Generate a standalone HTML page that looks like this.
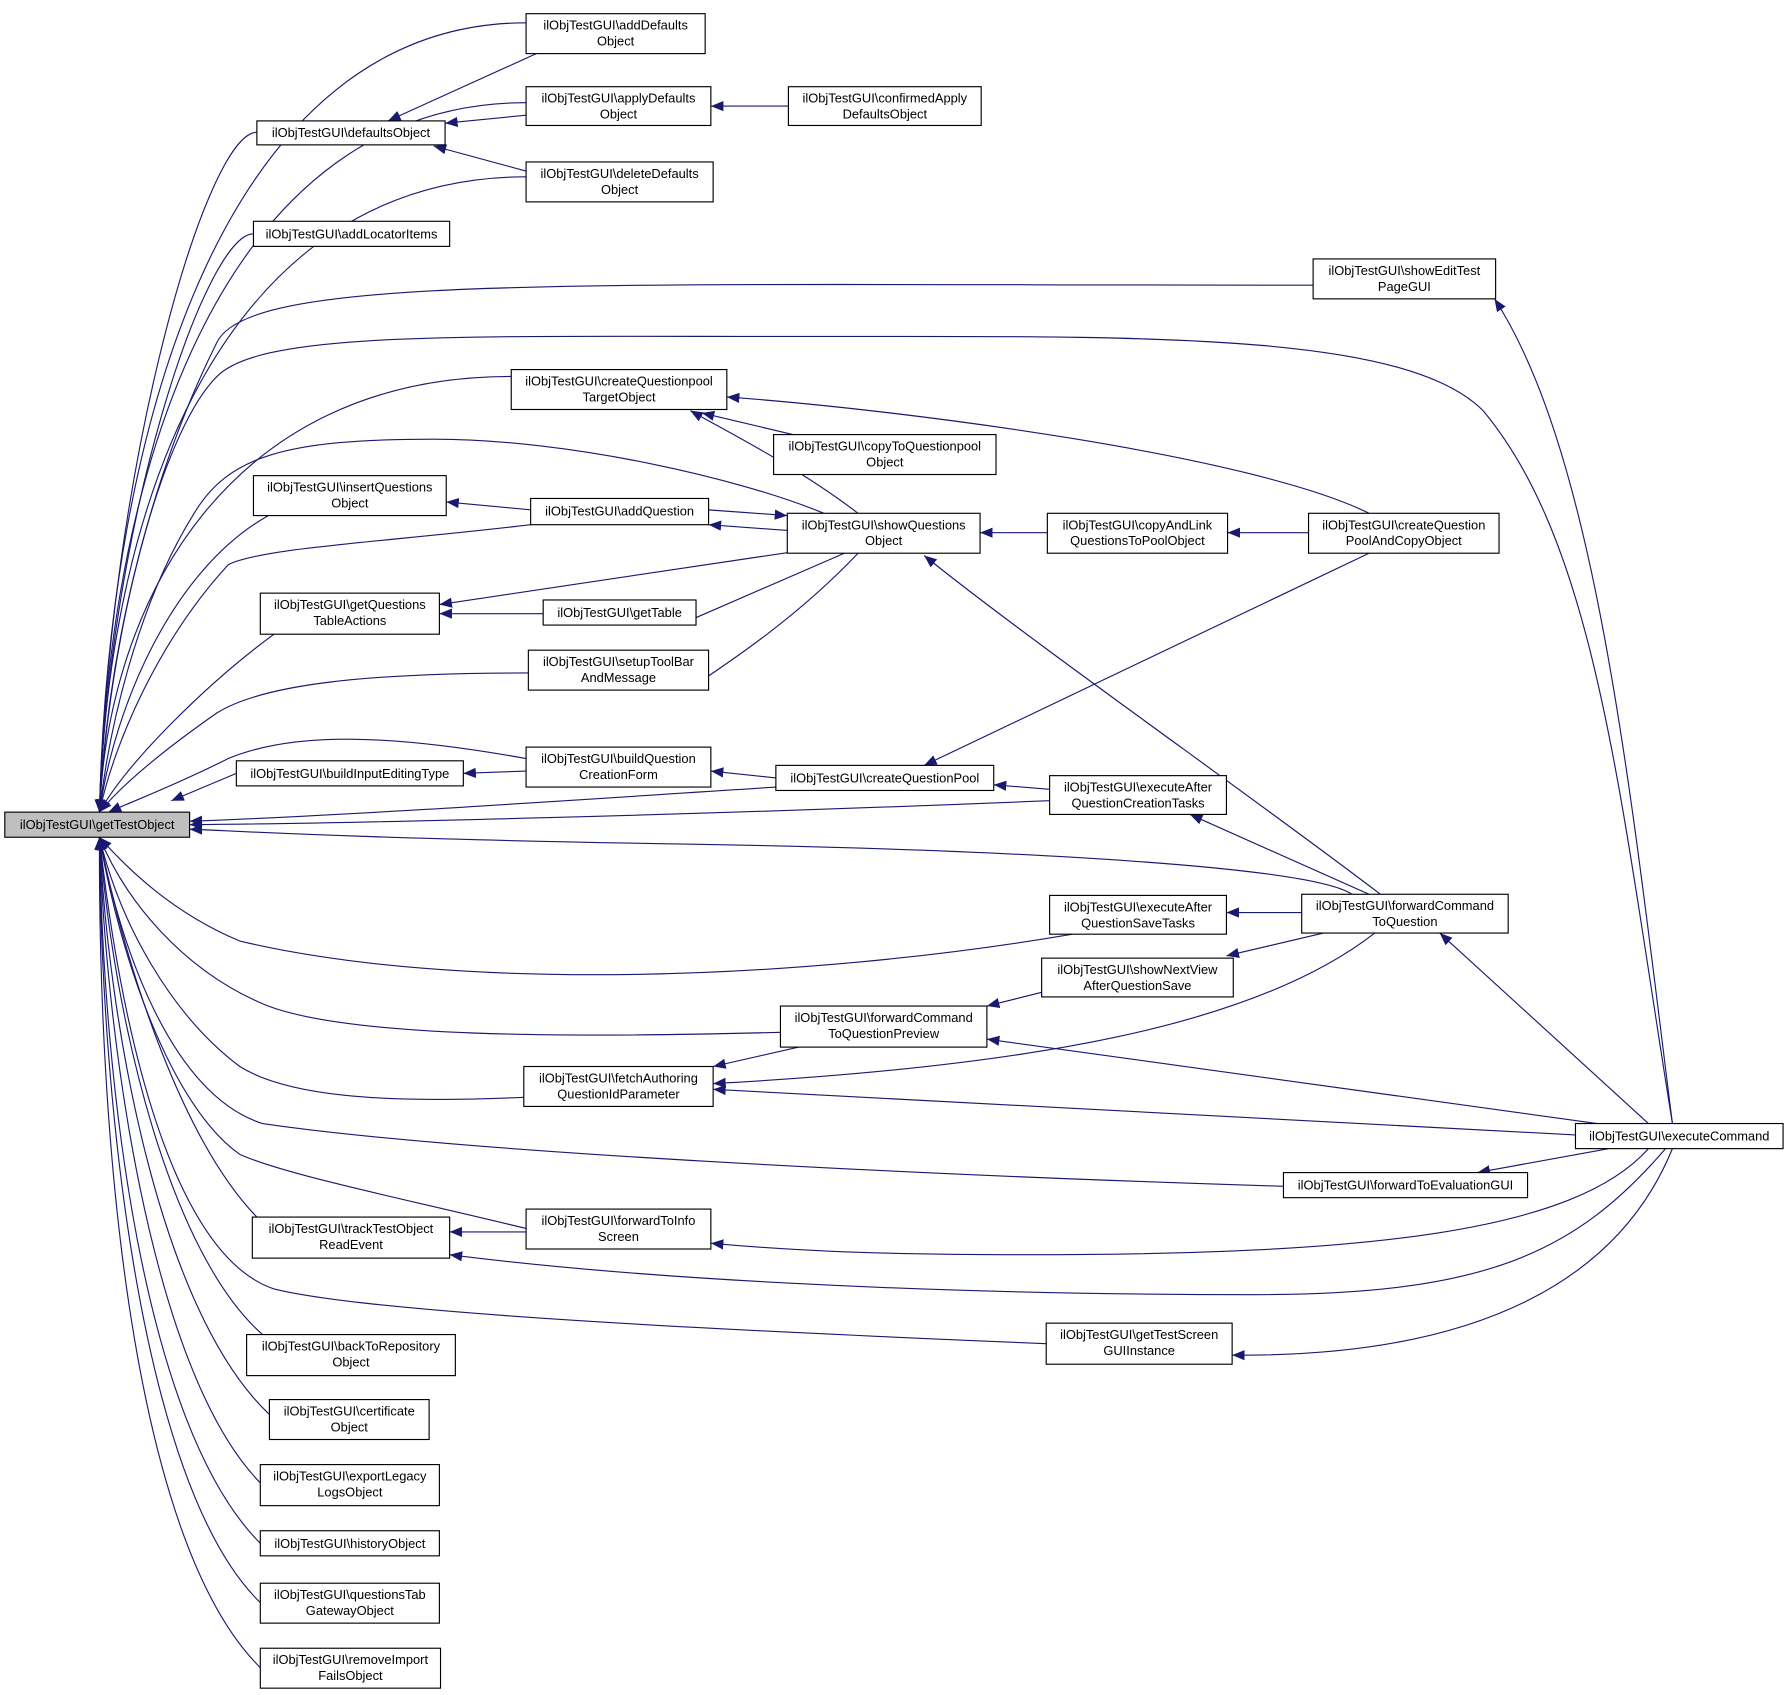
<!DOCTYPE html>
<html><head><meta charset="utf-8"><style>
html,body{margin:0;padding:0;background:#fff;}
svg{display:block;}
text{font-family:"Liberation Sans",sans-serif;font-size:11.3px;fill:#000;text-anchor:middle;}
.n{fill:#fff;stroke:#000;stroke-width:1;}
.e{fill:none;stroke:#191970;stroke-width:1;marker-end:url(#a);}
</style></head><body>
<svg width="1789" height="1695" viewBox="0 0 1568 1486" xmlns="http://www.w3.org/2000/svg">
<defs><marker id="a" markerUnits="userSpaceOnUse" markerWidth="12" markerHeight="10" refX="11" refY="4.5" orient="auto"><path d="M0,0 L11,4.5 L0,9 z" fill="#191970"/></marker></defs>
<g>
<!-- edges to getTestObject -->
<path class="e" d="M461,20 C200,20 95,366 87,712"/>
<path class="e" d="M461,90 C200,90 95,401 87,712"/>
<path class="e" d="M225,116 C180,116 95,414 87,712"/>
<path class="e" d="M461,155 C200,155 95,433 87,712"/>
<path class="e" d="M222,205 C180,205 95,458 87,712"/>
<path class="e" d="M1151,250 C500,250 220,240 190,300 C140,400 95,550 87,712"/>
<path class="e" d="M1466,985 C1420,700 1400,480 1300,360 C1230,290 1000,295 700,295 C400,295 230,290 190,330 C140,380 95,560 87,712"/>
<path class="e" d="M448,330 C200,330 95,526 87,712"/>
<path class="e" d="M722,450 C650,420 500,385 380,385 C250,385 200,400 170,450 C120,530 95,640 87,712"/>
<path class="e" d="M235,452 C150,500 100,620 87,712"/>
<path class="e" d="M465,460 C340,475 230,480 200,495 C140,560 100,650 87,712"/>
<path class="e" d="M240,556 C180,600 110,670 87,712"/>
<path class="e" d="M463,590 C320,590 230,600 190,625 C140,660 105,690 87,712"/>
<path class="e" d="M461,665 C350,645 260,640 200,665 C150,690 110,705 95,712"/>
<path class="e" d="M207,678 L150,702"/>
<path class="e" d="M680,690 C450,705 300,715 166,720"/>
<path class="e" d="M920,702 C600,715 300,722 166,723"/>
<path class="e" d="M1185,784 C1150,760 900,745 600,740 C300,735 200,728 166,727"/>
<path class="e" d="M940,819 C700,860 400,870 210,825 C150,800 110,760 87,734"/>
<path class="e" d="M684,905 C500,910 300,910 230,880 C160,850 110,790 87,734"/>
<path class="e" d="M459,962 C330,968 250,960 210,935 C150,890 105,810 87,734"/>
<path class="e" d="M1125,1040 C800,1030 400,1010 230,985 C150,960 105,830 87,734"/>
<path class="e" d="M461,1077 C350,1050 250,1030 210,1012 C150,970 105,840 87,734"/>
<path class="e" d="M225,1067 C160,1000 110,850 87,734"/>
<path class="e" d="M917,1178 C600,1165 320,1150 240,1130 C150,1100 105,900 87,734"/>
<path class="e" d="M230,1170 C150,1100 100,900 87,734"/>
<path class="e" d="M236,1240 C140,1150 95,900 87,734"/>
<path class="e" d="M228,1300 C130,1200 92,900 87,734"/>
<path class="e" d="M228,1353 C125,1250 90,950 87,734"/>
<path class="e" d="M228,1405 C120,1300 88,950 87,734"/>
<path class="e" d="M228,1462 C115,1350 86,1000 87,734"/>
<!-- other edges -->
<path class="e" d="M470,47 L340,106"/>
<path class="e" d="M461,101 L390,108"/>
<path class="e" d="M461,150 L380,128"/>
<path class="e" d="M691,93 L623,93"/>
<path class="e" d="M1466,985 C1430,700 1400,400 1310,262"/>
<path class="e" d="M695,381 L615,362"/>
<path class="e" d="M752,450 C700,410 640,380 605,360"/>
<path class="e" d="M1200,450 C1100,400 800,360 637,348"/>
<path class="e" d="M465,447 L391,440"/>
<path class="e" d="M690,465 L621,460"/>
<path class="e" d="M621,447 L690,452"/>
<path class="e" d="M720,480 L385,530"/>
<path class="e" d="M476,538 L385,538"/>
<path class="e" d="M740,485 L595,548"/>
<path class="e" d="M752,485 C700,540 640,580 610,600"/>
<path class="e" d="M918,467 L859,467"/>
<path class="e" d="M1147,467 L1076,467"/>
<path class="e" d="M1210,784 C1100,700 900,560 810,487"/>
<path class="e" d="M1200,485 L810,671"/>
<path class="e" d="M461,676 L406,678"/>
<path class="e" d="M680,682 L623,676"/>
<path class="e" d="M920,692 L871,688"/>
<path class="e" d="M1200,784 L1043,714"/>
<path class="e" d="M1141,800 L1075,800"/>
<path class="e" d="M1160,818 L1075,838"/>
<path class="e" d="M1445,985 L1262,818"/>
<path class="e" d="M913,870 L865,882"/>
<path class="e" d="M1400,985 L865,911"/>
<path class="e" d="M700,918 L625,935"/>
<path class="e" d="M1205,818 C1100,900 900,935 625,950"/>
<path class="e" d="M1381,995 L625,955"/>
<path class="e" d="M1410,1007 L1295,1028"/>
<path class="e" d="M461,1080 L394,1080"/>
<path class="e" d="M1460,1007 C1380,1100 1300,1135 1100,1135 C800,1135 550,1120 394,1100"/>
<path class="e" d="M1445,1007 C1380,1080 1200,1100 900,1100 C750,1100 680,1095 623,1090"/>
<path class="e" d="M1466,1007 C1420,1120 1300,1190 1080,1188"/>
</g>
<g>
<rect x="4" y="712" width="162" height="22" fill="#bfbfbf" stroke="#000"/><text x="85" y="727">ilObjTestGUI\getTestObject</text>

<rect class="n" x="461" y="12" width="157" height="35"/><text x="539.5" y="26">ilObjTestGUI\addDefaults</text><text x="539.5" y="40">Object</text>
<rect class="n" x="461" y="76" width="162" height="34"/><text x="542" y="90">ilObjTestGUI\applyDefaults</text><text x="542" y="104">Object</text>
<rect class="n" x="691" y="76" width="169" height="34"/><text x="775.5" y="90">ilObjTestGUI\confirmedApply</text><text x="775.5" y="104">DefaultsObject</text>
<rect class="n" x="225" y="106" width="165" height="21"/><text x="307.5" y="120">ilObjTestGUI\defaultsObject</text>
<rect class="n" x="461" y="142" width="164" height="35"/><text x="543" y="156">ilObjTestGUI\deleteDefaults</text><text x="543" y="170">Object</text>
<rect class="n" x="222" y="194" width="172" height="22"/><text x="308" y="209">ilObjTestGUI\addLocatorItems</text>
<rect class="n" x="1151" y="227" width="160" height="35"/><text x="1231" y="241">ilObjTestGUI\showEditTest</text><text x="1231" y="255">PageGUI</text>
<rect class="n" x="448" y="324" width="189" height="35"/><text x="542.5" y="338">ilObjTestGUI\createQuestionpool</text><text x="542.5" y="352">TargetObject</text>
<rect class="n" x="678" y="381" width="195" height="35"/><text x="775.5" y="395">ilObjTestGUI\copyToQuestionpool</text><text x="775.5" y="409">Object</text>
<rect class="n" x="222" y="417" width="169" height="35"/><text x="306.5" y="431">ilObjTestGUI\insertQuestions</text><text x="306.5" y="445">Object</text>
<rect class="n" x="465" y="437" width="156" height="23"/><text x="543" y="452">ilObjTestGUI\addQuestion</text>
<rect class="n" x="690" y="450" width="169" height="35"/><text x="774.5" y="464">ilObjTestGUI\showQuestions</text><text x="774.5" y="478">Object</text>
<rect class="n" x="918" y="450" width="158" height="35"/><text x="997" y="464">ilObjTestGUI\copyAndLink</text><text x="997" y="478">QuestionsToPoolObject</text>
<rect class="n" x="1147" y="450" width="167" height="35"/><text x="1230.5" y="464">ilObjTestGUI\createQuestion</text><text x="1230.5" y="478">PoolAndCopyObject</text>
<rect class="n" x="228" y="520" width="157" height="36"/><text x="306.5" y="534">ilObjTestGUI\getQuestions</text><text x="306.5" y="548">TableActions</text>
<rect class="n" x="476" y="526" width="134" height="22"/><text x="543" y="541">ilObjTestGUI\getTable</text>
<rect class="n" x="463" y="570" width="158" height="35"/><text x="542" y="584">ilObjTestGUI\setupToolBar</text><text x="542" y="598">AndMessage</text>
<rect class="n" x="207" y="667" width="199" height="22"/><text x="306.5" y="682">ilObjTestGUI\buildInputEditingType</text>
<rect class="n" x="461" y="655" width="162" height="35"/><text x="542" y="669">ilObjTestGUI\buildQuestion</text><text x="542" y="683">CreationForm</text>
<rect class="n" x="680" y="671" width="191" height="22"/><text x="775.5" y="686">ilObjTestGUI\createQuestionPool</text>
<rect class="n" x="920" y="680" width="155" height="34"/><text x="997.5" y="694">ilObjTestGUI\executeAfter</text><text x="997.5" y="708">QuestionCreationTasks</text>
<rect class="n" x="920" y="785" width="155" height="34"/><text x="997.5" y="799">ilObjTestGUI\executeAfter</text><text x="997.5" y="813">QuestionSaveTasks</text>
<rect class="n" x="1141" y="784" width="181" height="34"/><text x="1231.5" y="798">ilObjTestGUI\forwardCommand</text><text x="1231.5" y="812">ToQuestion</text>
<rect class="n" x="913" y="840" width="168" height="34"/><text x="997" y="854">ilObjTestGUI\showNextView</text><text x="997" y="868">AfterQuestionSave</text>
<rect class="n" x="684" y="882" width="181" height="36"/><text x="774.5" y="896">ilObjTestGUI\forwardCommand</text><text x="774.5" y="910">ToQuestionPreview</text>
<rect class="n" x="459" y="935" width="166" height="35"/><text x="542" y="949">ilObjTestGUI\fetchAuthoring</text><text x="542" y="963">QuestionIdParameter</text>
<rect class="n" x="1381" y="985" width="182" height="22"/><text x="1472" y="1000">ilObjTestGUI\executeCommand</text>
<rect class="n" x="1125" y="1028" width="214" height="22"/><text x="1232" y="1043">ilObjTestGUI\forwardToEvaluationGUI</text>
<rect class="n" x="221" y="1067" width="173" height="36"/><text x="307.5" y="1081">ilObjTestGUI\trackTestObject</text><text x="307.5" y="1095">ReadEvent</text>
<rect class="n" x="461" y="1060" width="162" height="35"/><text x="542" y="1074">ilObjTestGUI\forwardToInfo</text><text x="542" y="1088">Screen</text>
<rect class="n" x="917" y="1160" width="163" height="36"/><text x="998.5" y="1174">ilObjTestGUI\getTestScreen</text><text x="998.5" y="1188">GUIInstance</text>
<rect class="n" x="216" y="1170" width="183" height="36"/><text x="307.5" y="1184">ilObjTestGUI\backToRepository</text><text x="307.5" y="1198">Object</text>
<rect class="n" x="236" y="1227" width="140" height="35"/><text x="306" y="1241">ilObjTestGUI\certificate</text><text x="306" y="1255">Object</text>
<rect class="n" x="228" y="1284" width="157" height="36"/><text x="306.5" y="1298">ilObjTestGUI\exportLegacy</text><text x="306.5" y="1312">LogsObject</text>
<rect class="n" x="228" y="1342" width="157" height="22"/><text x="306.5" y="1357">ilObjTestGUI\historyObject</text>
<rect class="n" x="228" y="1388" width="157" height="35"/><text x="306.5" y="1402">ilObjTestGUI\questionsTab</text><text x="306.5" y="1416">GatewayObject</text>
<rect class="n" x="228" y="1445" width="158" height="35"/><text x="307" y="1459">ilObjTestGUI\removeImport</text><text x="307" y="1473">FailsObject</text>
</g>
</svg>
</body></html>
